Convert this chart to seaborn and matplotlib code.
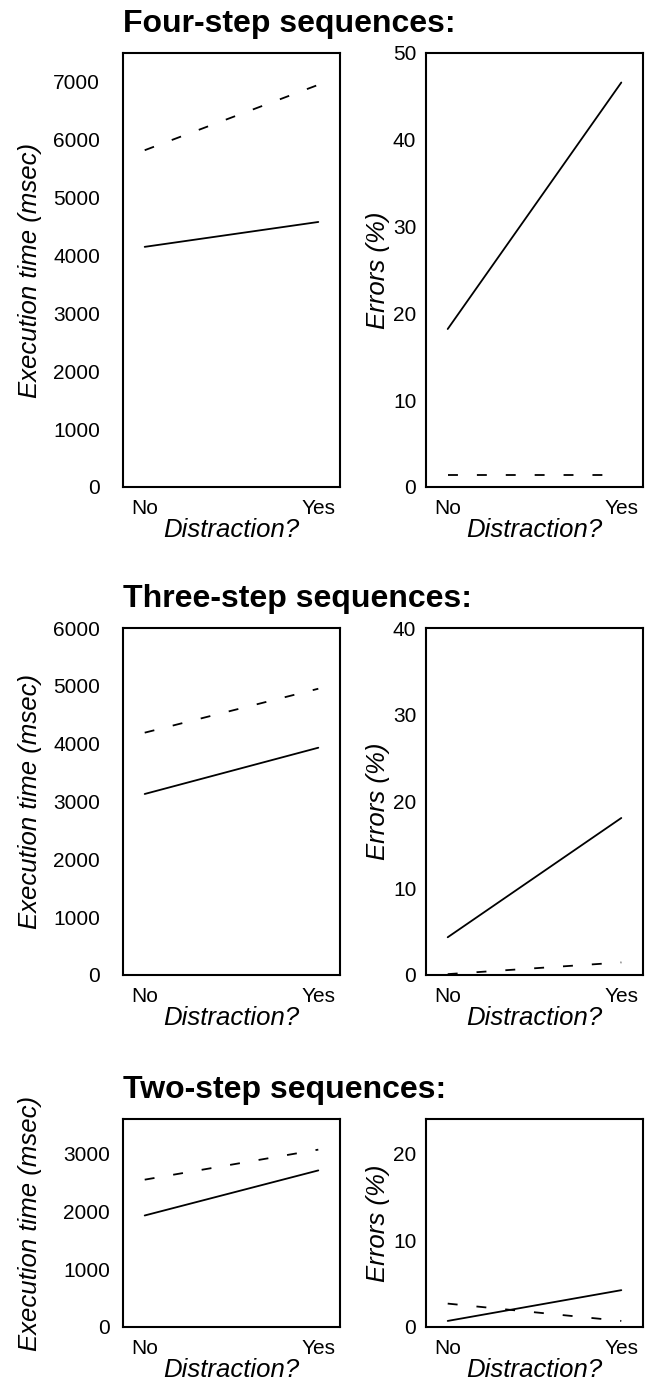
import pandas as pd
import matplotlib.pyplot as plt
import seaborn as sns

# x categories
distraction = ['No', 'Yes']

# four-step sequences
time_solid_4 = [4150, 4580]
time_dashed_4 = [5820, 6950]
err_solid_4 = [18.2, 46.6]
err_dashed_4 = [1.4, 1.4]

# three-step sequences
time_solid_3 = [3130, 3930]
time_dashed_3 = [4190, 4950]
err_solid_3 = [4.35, 18.1]
err_dashed_3 = [0.1, 1.45]

# two-step sequences
time_solid_2 = [1930, 2710]
time_dashed_2 = [2550, 3070]
err_solid_2 = [0.7, 4.25]
err_dashed_2 = [2.7, 0.7]

titles = ['Four-step sequences:', 'Three-step sequences:', 'Two-step sequences:']
time_tops = [7500, 6000, 3600]
err_tops = [50, 40, 24]

W, H = 653, 1383
sns.set_style('white')
plt.rcParams['font.family'] = ['Liberation Sans', 'DejaVu Sans']
plt.rcParams['text.color'] = 'black'
plt.rcParams['axes.labelcolor'] = 'black'

fig = plt.figure(figsize=(W / 100, H / 100), dpi=100)

# layout in pixels
panel_tops = [53, 628, 1119]
panel_heights = [434, 347, 208]
title_baselines = [31.7, 606.7, 1098.3]
left_x, right_x, panel_w = 123, 426, 217
left_pads = [16.5, 16.5, 9.5]


def draw_panel(ax, solid, dashed, top, step, ylabel, ylab_right, ypad, h):
    df = pd.DataFrame({
        'Distraction': distraction * 2,
        'value': solid + dashed,
        'line': ['solid'] * 2 + ['dashed'] * 2,
    })
    sns.lineplot(data=df, x='Distraction', y='value', style='line',
                 dashes={'solid': '', 'dashed': (5.5, 10.5)},
                 color='black', linewidth=1.3, legend=False, ax=ax, sort=False)
    ax.set_xlim(-0.125, 1.125)
    ax.set_ylim(0, top)
    ax.set_yticks(range(0, int(top) + 1, step))
    for s in ax.spines.values():
        s.set_color('black')
        s.set_linewidth(1.5)
    ax.tick_params(axis='both', length=0, labelsize=15, colors='black')
    ax.tick_params(axis='y', pad=ypad)
    ax.tick_params(axis='x', pad=9)
    ax.set_xlabel('Distraction?', fontsize=18.5, style='italic')
    ax.set_ylabel(ylabel, fontsize=18.5, style='italic')
    ax.xaxis.set_label_coords(0.5, -31 / h)
    ax.yaxis.set_label_coords(ylab_right, 0.5)


rows = [
    (time_solid_4, time_dashed_4, err_solid_4, err_dashed_4),
    (time_solid_3, time_dashed_3, err_solid_3, err_dashed_3),
    (time_solid_2, time_dashed_2, err_solid_2, err_dashed_2),
]

for i, (ts, td, es, ed) in enumerate(rows):
    top, h = panel_tops[i], panel_heights[i]
    ax1 = fig.add_axes([left_x / W, 1 - (top + h) / H, panel_w / W, h / H])
    draw_panel(ax1, ts, td, time_tops[i], 1000, 'Execution time (msec)',
               (42 - left_x) / panel_w, left_pads[i], h)
    ax2 = fig.add_axes([right_x / W, 1 - (top + h) / H, panel_w / W, h / H])
    draw_panel(ax2, es, ed, err_tops[i], 10, 'Errors (%)',
               (390 - right_x) / panel_w, 7, h)
    fig.text(left_x / W, 1 - title_baselines[i] / H, titles[i], fontsize=23,
             fontweight='bold', ha='left', va='baseline')

fig.savefig('out.png', dpi=100)
